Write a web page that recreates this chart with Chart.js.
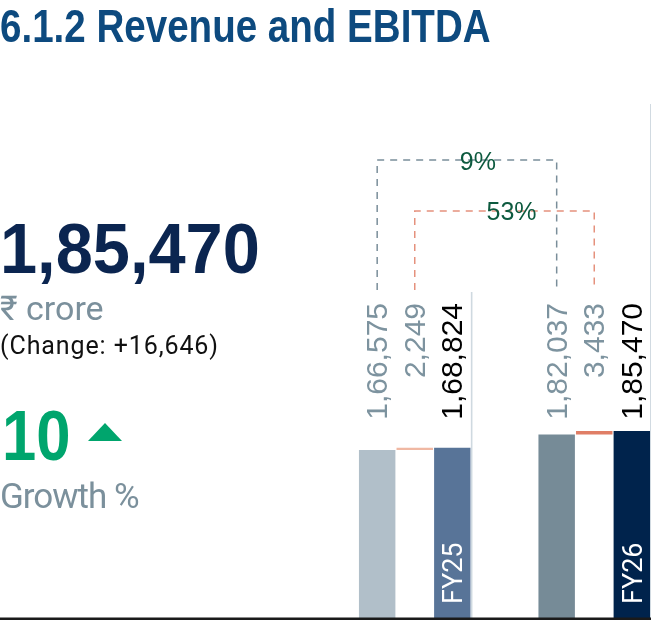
<!DOCTYPE html>
<html>
<head>
<meta charset="utf-8">
<script src="https://cdn.jsdelivr.net/npm/chart.js@4.4.1/dist/chart.umd.min.js"></script>
<style>
    html, body { margin: 0; padding: 0; overflow: hidden; background: #fff; }
    body { width: 651px; height: 620px; position: relative; }
    #grafiek { position: absolute; left: 0; top: 0; }
    .tekst { position: absolute; left: 0; white-space: nowrap; line-height: 1; transform-origin: 0 0; }
    #titel { top: -1px; font: bold 46px "Liberation Sans", Arial, sans-serif; color: #0d4a7f; transform: scaleX(0.838); }
    #totaal { top: 208px; font: bold 71px "Liberation Sans", Arial, sans-serif; color: #0b2550; transform: scaleX(0.94); }
    #eenheid { top: 288px; font: 34px Roboto, "Noto Sans", "DejaVu Sans", sans-serif; color: #7b909c; }
    #verschil { top: 331px; font: 25px Roboto, "Noto Sans", sans-serif; letter-spacing: 0.9px; color: #111; }
    #groei { top: 396px; left: 2px; font: bold 70px "Liberation Sans", Arial, sans-serif; color: #00a56d; transform: scaleX(0.88); }
    #pijl { position: absolute; left: 88px; top: 423px; width: 34px; height: 18px; background: #00a56d;
            clip-path: polygon(50% 0, 100% 100%, 0 100%); }
    #groei-label { top: 476px; font: 35px Roboto, "Noto Sans", sans-serif; letter-spacing: -1px; color: #7b909c; }
</style>
</head>
<body>
<canvas id="grafiek" width="684" height="620"></canvas>
<div class="tekst" id="titel">6.1.2 Revenue and EBITDA</div>
<div class="tekst" id="totaal"></div>
<div class="tekst" id="eenheid">₹ crore</div>
<div class="tekst" id="verschil"></div>
<div class="tekst" id="groei"></div>
<div id="pijl"></div>
<div class="tekst" id="groei-label">Growth %</div>
<script>
// Boekjaren en waarden (₹ crore)
const jaren = ['FY25', 'FY26'];
const basisOmzet = [166575, 182037];
const overigeInkomsten = [2249, 3433];
const totaleOmzet = [168824, 185470];

const kleurenBasis = ['#b1bfc9', '#768b97'];
const kleurenOverig = ['#f0b8a3', '#e07e66'];
const kleurenTotaal = ['#587498', '#00234c'];

// Indiase notatie: 1,66,575
function inr(n) {
    const s = String(Math.round(n));
    if (s.length <= 3) return s;
    const laatste3 = s.slice(-3);
    const rest = s.slice(0, -3).replace(/\B(?=(\d{2})+(?!\d))/g, ',');
    return rest + ',' + laatste3;
}

// Linkerkant: kerncijfers
const verschil = totaleOmzet[1] - totaleOmzet[0];
document.getElementById('totaal').textContent = inr(totaleOmzet[1]);
document.getElementById('verschil').textContent = '(Change: +' + inr(verschil) + ')';
document.getElementById('groei').textContent = Math.round(verschil / totaleOmzet[0] * 100);

const groeiBasis = Math.round((basisOmzet[1] / basisOmzet[0] - 1) * 100) + '%';
const groeiOverig = Math.round((overigeInkomsten[1] / overigeInkomsten[0] - 1) * 100) + '%';

function tekstVerticaal(ctx, tekst, x, y, kleur, font, uitlijning) {
    ctx.save();
    ctx.font = font;
    ctx.fillStyle = kleur;
    const hoogte = ctx.measureText('0').actualBoundingBoxAscent;
    ctx.translate(x + hoogte / 2, y);
    ctx.rotate(-Math.PI / 2);
    ctx.textAlign = uitlijning;
    ctx.textBaseline = 'alphabetic';
    ctx.fillText(tekst, 0, 0);
    ctx.restore();
}

function haak(ctx, x1, x2, yTop, yOnder, kleur) {
    ctx.save();
    ctx.strokeStyle = kleur;
    ctx.lineWidth = 1.5;
    ctx.setLineDash([7, 6]);
    ctx.beginPath();
    ctx.moveTo(x1, yOnder);
    ctx.lineTo(x1, yTop);
    ctx.lineTo(x2, yTop);
    ctx.lineTo(x2, yOnder);
    ctx.stroke();
    ctx.restore();
}

const extraTekening = {
    id: 'extraTekening',
    afterDatasetsDraw(chart) {
        const ctx = chart.ctx;
        const basis = chart.getDatasetMeta(0).data;
        const overig = chart.getDatasetMeta(1).data;
        const totaal = chart.getDatasetMeta(2).data;

        // scheidingslijnen
        ctx.save();
        ctx.fillStyle = '#cfd9e0';
        ctx.fillRect(totaal[0].x + totaal[0].width / 2 + 0.3, 292, 1.6, 330);
        ctx.fillRect(totaal[1].x + totaal[1].width / 2, 104, 2, 520);
        ctx.restore();

        // waardelabels boven de staven
        const font = '30px "Liberation Sans", Arial, sans-serif';
        jaren.forEach((jaar, i) => {
            tekstVerticaal(ctx, inr(basisOmzet[i]), basis[i].x, 303, '#7d939f', font, 'right');
            tekstVerticaal(ctx, inr(overigeInkomsten[i]), overig[i].x, 303, '#7d939f', font, 'right');
            tekstVerticaal(ctx, inr(totaleOmzet[i]), totaal[i].x, 303, '#000000', font, 'right');
            tekstVerticaal(ctx, jaar, totaal[i].x, 604, '#ffffff', '27px Roboto, sans-serif', 'left');
        });

        // groeihaken
        haak(ctx, basis[0].x, basis[1].x, 160, 290, '#7a8e9a');
        haak(ctx, overig[0].x, overig[1].x, 211, 290, '#e5917d');
        ctx.save();
        ctx.font = '25px "Liberation Sans", Arial, sans-serif';
        ctx.fillStyle = '#0d5a3f';
        ctx.textAlign = 'center';
        ctx.fillText(groeiBasis, (basis[0].x + basis[1].x) / 2 + 11, 170);
        ctx.fillText(groeiOverig, (overig[0].x + overig[1].x) / 2 + 7, 220);
        ctx.restore();

        // basislijn
        ctx.save();
        ctx.fillStyle = '#1a1a1a';
        ctx.fillRect(0, 617.5, chart.width, 2.5);
        ctx.restore();
    }
};

document.addEventListener('DOMContentLoaded', () => {
    const ctx = document.getElementById('grafiek').getContext('2d');
    new Chart(ctx, {
        type: 'bar',
        data: {
            labels: jaren,
            datasets: [
                { label: 'Revenue', data: basisOmzet, backgroundColor: kleurenBasis },
                { label: 'Other income', data: basisOmzet.map((b, i) => [b, b + overigeInkomsten[i]]), backgroundColor: kleurenOverig },
                { label: 'Total', data: totaleOmzet, backgroundColor: kleurenTotaal }
            ]
        },
        options: {
            responsive: false,
            animation: false,
            datasets: { bar: { categoryPercentage: 0.628, barPercentage: 0.97 } },
            layout: { padding: { left: 325, top: 416.3, right: 0, bottom: 1.5 } },
            scales: {
                x: { display: false },
                y: { display: false, min: 0, max: 200000 }
            },
            plugins: {
                legend: { display: false },
                tooltip: { enabled: false }
            }
        },
        plugins: [extraTekening]
    });
});
</script>
</body>
</html>
